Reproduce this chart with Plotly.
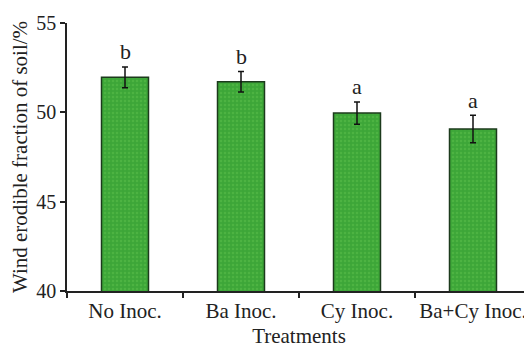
import plotly.graph_objects as go

categories = ["No Inoc.", "Ba Inoc.", "Cy Inoc.", "Ba+Cy Inoc."]
values = [51.96, 51.71, 49.96, 49.07]
errors = [0.58, 0.57, 0.62, 0.77]
letters = ["b", "b", "a", "a"]
y_ticks = [40, 45, 50, 55]

fig = go.Figure()
fig.add_trace(go.Bar(
    x=categories, y=values, width=0.405,
    marker=dict(color="#3da638", line=dict(color="#1c3a1c", width=1.5),
                pattern=dict(shape=".", fgcolor="#5cbf4c", size=4, solidity=0.3)),
    error_y=dict(type="data", array=errors, visible=True, color="#111111",
                 thickness=1.5, width=3),
))
for c, v, e, l in zip(categories, values, errors, letters):
    fig.add_annotation(x=c, y=v + e, text=l, showarrow=False, yshift=15,
                       font=dict(family="Liberation Serif", size=22, color="#222"))

# page body has an 8px offset; size the figure so it ends at 532x348
fig.update_layout(
    width=524, height=340,
    margin=dict(l=59, r=1, t=15, b=57),
    plot_bgcolor="white", paper_bgcolor="white",
    showlegend=False,
    font=dict(family="Liberation Serif", color="#222"),
)
fig.update_xaxes(
    automargin=False, tickangle=0,
    showline=True, linecolor="#222", linewidth=1.5,
    ticks="outside", tickson="boundaries", ticklen=5, tickcolor="#222", tickwidth=1.5,
    tickfont=dict(size=21), title=dict(text="Treatments", font=dict(size=21), standoff=7),
)
fig.update_yaxes(
    automargin=False,
    range=[40, 55], tickvals=y_ticks, showline=True, linecolor="#222", linewidth=1.5,
    ticks="outside", ticklen=5, tickcolor="#222", tickwidth=1.5, showgrid=False,
    tickfont=dict(size=20), zeroline=False,
    title=dict(text="Wind erodible fraction of soil/%", font=dict(size=21), standoff=6),
)
fig.write_html("out.html")
